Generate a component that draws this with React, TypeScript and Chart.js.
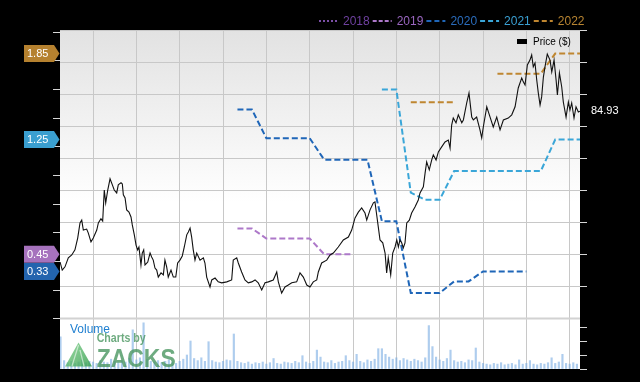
import React, { useEffect, useRef } from "react";
import { Chart, registerables } from "chart.js";

Chart.register(...registerables);

// x values: months counted from the first quarterly gridline (Jul 2018)
const X_MIN = -2.285;
const X_MAX = 33.715;
const quarterTicks = [0, 3, 6, 9, 12, 15, 18, 21, 24, 27, 30, 33];

// Price ($)
const priceMonths = [
  -2.28, -2.13, -1.94, -1.71, -1.47, -1.25, -1.06, -0.9, -0.78, -0.67,
  -0.44, -0.33, -0.14, 0.02, 0.26, 0.37, 0.55, 0.67, 0.78, 0.88,
  1.02, 1.18, 1.34, 1.47, 1.64, 1.75, 1.94, 2.03, 2.1, 2.22,
  2.33, 2.49, 2.63, 2.72, 2.86, 2.98, 3.09, 3.18, 3.32, 3.41,
  3.51, 3.6, 3.79, 3.95, 4.06, 4.17, 4.29, 4.41, 4.52, 4.71,
  4.87, 4.98, 5.1, 5.21, 5.4, 5.56, 5.73, 5.86, 6.02, 6.18,
  6.32, 6.49, 6.6, 6.72, 6.83, 6.94, 7.06, 7.18, 7.41, 7.64,
  7.75, 7.87, 8.1, 8.22, 8.45, 8.67, 8.91, 9.26, 9.6, 9.71,
  9.95, 10.06, 10.29, 10.52, 10.75, 10.99, 11.22, 11.44, 11.68, 11.91,
  12.14, 12.48, 12.72, 12.83, 13.06, 13.29, 13.52, 13.76, 14.1, 14.33,
  14.56, 14.8, 15.02, 15.25, 15.49, 15.6, 15.83, 16.18, 16.41, 16.64,
  16.98, 17.33, 17.68, 17.91, 18.14, 18.37, 18.6, 18.83, 18.95, 19.18,
  19.41, 19.52, 19.64, 19.75, 19.87, 20.06, 20.22, 20.33, 20.44, 20.61,
  20.75, 20.91, 21.03, 21.14, 21.25, 21.37, 21.48, 21.6, 21.72, 21.9,
  22.06, 22.29, 22.52, 22.64, 22.87, 22.99, 23.1, 23.28, 23.45, 23.56,
  23.75, 23.91, 24.14, 24.37, 24.6, 24.72, 24.83, 24.94, 25.13, 25.29,
  25.53, 25.64, 25.87, 26.03, 26.22, 26.33, 26.56, 26.79, 26.91, 27.02,
  27.26, 27.49, 27.71, 27.95, 28.18, 28.41, 28.75, 28.99, 29.22, 29.44,
  29.68, 29.79, 29.91, 30.07, 30.25, 30.37, 30.48, 30.6, 30.72, 30.83,
  30.95, 31.06, 31.18, 31.29, 31.45, 31.64, 31.76, 31.92, 32.06, 32.15,
  32.29, 32.45, 32.56, 32.75, 32.91, 33.02, 33.14, 33.3, 33.44, 33.6,
  33.715,
];
const priceClose = [
  37.8, 35.3, 36.3, 39.1, 40.0, 41.6, 45.3, 50.0, 50.9, 47.8,
  48.1, 46.9, 44.1, 45.3, 47.8, 50.0, 51.3, 50.6, 60.3, 56.3,
  60.3, 63.8, 61.9, 60.3, 59.4, 61.9, 62.6, 62.2, 58.8, 57.8,
  54.1, 53.4, 51.9, 49.4, 46.3, 43.1, 41.6, 42.5, 36.9, 40.6,
  41.6, 36.9, 37.8, 40.6, 39.4, 38.4, 35.9, 35.3, 33.1, 34.4,
  33.8, 38.4, 36.3, 33.1, 35.3, 33.1, 33.1, 37.5, 38.4, 39.7,
  42.5, 46.3, 47.2, 48.4, 45.6, 41.6, 38.4, 40.6, 38.4, 39.1,
  37.5, 33.1, 30.0, 32.2, 32.8, 31.6, 31.3, 31.6, 32.2, 38.4,
  39.1, 37.5, 34.7, 32.2, 31.3, 31.6, 32.2, 31.3, 29.1, 31.3,
  31.6, 32.2, 34.7, 31.6, 28.1, 30.0, 30.6, 31.3, 31.6, 34.4,
  33.1, 30.6, 30.0, 31.6, 32.2, 34.7, 37.5, 38.4, 40.0, 40.6,
  42.5, 44.7, 45.6, 47.8, 51.6, 53.4, 54.7, 53.1, 50.9, 54.1,
  56.3, 56.6, 52.5, 48.8, 44.7, 43.8, 40.6, 34.4, 39.1, 33.8,
  40.6, 42.5, 44.7, 42.5, 44.7, 43.8, 42.2, 43.8, 50.0, 50.9,
  53.1, 55.0, 57.2, 59.4, 61.3, 65.6, 69.1, 66.6, 69.7, 71.3,
  69.7, 72.2, 73.8, 75.3, 75.9, 73.4, 80.6, 82.8, 81.3, 83.8,
  81.3, 82.2, 87.5, 90.6, 83.1, 82.2, 83.1, 79.1, 76.6, 80.0,
  86.3, 83.1, 80.0, 83.1, 79.1, 82.2, 82.8, 83.8, 86.3, 92.2,
  95.3, 94.1, 93.1, 99.4, 100.9, 102.5, 98.8, 100.0, 94.7, 90.6,
  86.9, 89.4, 95.6, 98.8, 102.8, 100.9, 97.2, 100.9, 94.7, 90.0,
  96.9, 92.5, 87.8, 83.1, 87.8, 85.3, 87.5, 82.8, 86.3, 84.7,
  84.93,
];

// Consensus EPS estimates by fiscal year (monthly)
const epsMonths = [10, 11, 12, 13, 14, 15, 16, 17, 18, 19, 20, 21, 22, 23, 24, 25, 26, 27, 28, 29, 30, 31, 32, 33, 33.715];
const eps2019 = [0.63, 0.63, 0.56, 0.56, 0.56, 0.56, 0.45, 0.45, 0.45, null, null, null, null, null, null, null, null, null, null, null, null, null, null, null, null];
const eps2020 = [1.46, 1.46, 1.26, 1.26, 1.26, 1.26, 1.11, 1.11, 1.11, 1.11, 0.68, 0.68, 0.18, 0.18, 0.18, 0.26, 0.26, 0.33, 0.33, 0.33, 0.33, null, null, null, null];
const eps2021 = [null, null, null, null, null, null, null, null, null, null, 1.6, 1.6, 0.88, 0.83, 0.83, 1.03, 1.03, 1.03, 1.03, 1.03, 1.03, 1.03, 1.25, 1.25, 1.25];
const eps2022 = [null, null, null, null, null, null, null, null, null, null, null, null, 1.51, 1.51, 1.51, 1.51, null, null, 1.71, 1.71, 1.71, 1.71, 1.85, 1.85, 1.85];

// Volume (millions of shares), weekly
const volumeStartMonth = -2.25;
const volumeStepMonths = 0.25;
const volumeM = [
  4.6, 1.2, 0.9, 1.1, 0.8, 1.0, 1.3, 0.9, 1.1, 1.0, 0.8, 1.2,
  1.0, 0.9, 1.4, 1.1, 0.9, 1.2, 1.0, 1.5, 5.6, 1.3, 1.6, 6.6,
  1.4, 1.1, 1.0, 1.2, 0.9, 1.1, 1.3, 1.0, 0.8, 1.1, 1.4, 2.0,
  4.0, 1.5, 1.2, 1.6, 1.1, 3.9, 1.2, 1.0, 0.9, 1.1, 1.3, 1.2,
  5.0, 1.1, 0.9, 0.8, 1.0, 0.7, 0.9, 0.8, 1.0, 0.7, 0.9, 1.5,
  0.8, 0.7, 1.0, 0.9, 0.8, 1.1, 0.9, 1.9, 1.0, 0.8, 1.1, 2.7,
  1.7, 1.0, 0.9, 1.2, 0.8, 1.0, 1.1, 1.9, 1.2, 1.0, 2.1, 1.1,
  0.9, 1.3, 1.1, 1.4, 2.9, 2.9, 2.1, 1.7, 1.4, 1.6, 1.2, 1.5,
  1.3, 1.1, 1.4, 1.2, 1.0, 1.6, 6.2, 3.2, 1.7, 1.3, 1.1, 1.5,
  2.7, 1.2, 1.0, 1.1, 0.9, 1.3, 1.2, 3.0, 1.0, 0.8, 0.7, 0.6,
  0.8, 0.7, 0.9, 0.6, 0.7, 0.8, 0.6, 1.3, 0.7, 0.8, 1.2, 0.7,
  0.6, 0.8, 0.7, 0.9, 1.6, 0.8, 1.0, 2.1, 0.8, 0.7, 0.9, 0.7,
];

const epsTicks = [0, 0.2, 0.4, 0.6, 0.8, 1.0, 1.2, 1.4, 1.6, 1.8, 2.0];
const priceTicks = [30, 40, 50, 60, 70, 80, 90, 100, 110];
const volumeTicks = [0, 2, 4, 6];

const legendYears = ["2018", "2019", "2020", "2021", "2022"];
const legendLineColors = ["#7b4fa6", "#ad78c9", "#1f66b8", "#3aa6d8", "#bf8630"];
const legendTextColors = ["#6f41a0", "#9a66c0", "#2a6cbc", "#3a9fd2", "#b88532"];
const legendDashes = [[2, 2], [4, 2], [5, 3], [5, 3], [5, 3]];

const FONT = '"Liberation Sans", Arial, Helvetica, sans-serif';

const estimateSeries = [
  { year: "2019", values: eps2019, color: "#ad78c9", badge: "#a672bd" },
  { year: "2020", values: eps2020, color: "#1f66b8", badge: "#2364ae" },
  { year: "2021", values: eps2021, color: "#3aa6d8", badge: "#3a9fd0" },
  { year: "2022", values: eps2022, color: "#bf8630", badge: "#b5812f" },
];

function fixedTicks(values: number[]) {
  return (scale: any) => {
    scale.ticks = values.map((v) => ({ value: v }));
  };
}

const decorPlugin = {
  id: "decor",
  beforeDraw(chart: any) {
    const { ctx, chartArea: a, scales } = chart;
    const split = scales.yPrice.bottom;
    ctx.save();
    ctx.fillStyle = "#000";
    ctx.fillRect(0, 0, chart.width, chart.height);
    const g = ctx.createLinearGradient(0, a.top, 0, split);
    g.addColorStop(0, "#e2e2e2");
    g.addColorStop(0.6, "#ffffff");
    g.addColorStop(1, "#ffffff");
    ctx.fillStyle = g;
    ctx.fillRect(a.left, a.top, a.right - a.left, split - a.top);
    ctx.fillStyle = "#ffffff";
    ctx.fillRect(a.left, split, a.right - a.left, a.bottom - split);
    ctx.restore();
  },
  beforeDatasetsDraw(chart: any) {
    const { ctx, chartArea: a, scales } = chart;
    const split = scales.yPrice.bottom;
    ctx.save();
    ctx.fillStyle = "#d2d2d2";
    ctx.fillRect(a.left, split - 0.5, a.right - a.left, 2);
    ctx.restore();
  },
  afterDatasetsDraw(chart: any) {
    const { ctx } = chart;
    ctx.save();
    // "Volume" caption
    ctx.fillStyle = "#1f7fd0";
    ctx.font = `12px ${FONT}`;
    ctx.textBaseline = "middle";
    ctx.textAlign = "left";
    ctx.fillText("Volume", 70, 330);
    // watermark
    ctx.globalAlpha = 0.8;
    const tg = ctx.createLinearGradient(65, 343, 92, 367);
    tg.addColorStop(0, "#7fd08a");
    tg.addColorStop(1, "#2e9a48");
    ctx.fillStyle = tg;
    ctx.beginPath();
    ctx.moveTo(78.5, 342.5);
    ctx.lineTo(92, 366.5);
    ctx.lineTo(65, 366.5);
    ctx.closePath();
    ctx.fill();
    ctx.strokeStyle = "rgba(255,255,255,0.7)";
    ctx.lineWidth = 1.2;
    ctx.beginPath();
    ctx.moveTo(78.5, 345);
    ctx.lineTo(72, 366);
    ctx.moveTo(80, 350);
    ctx.lineTo(84, 366);
    ctx.stroke();
    ctx.fillStyle = "#4a9660";
    ctx.font = `bold 13px ${FONT}`;
    let w = ctx.measureText("Charts by").width;
    ctx.save();
    ctx.translate(96.7, 338);
    ctx.scale(49 / w, 1);
    ctx.textBaseline = "middle";
    ctx.fillText("Charts by", 0, 0);
    ctx.restore();
    ctx.font = `bold 26px ${FONT}`;
    w = ctx.measureText("ZACKS").width;
    ctx.save();
    ctx.translate(96.7, 366.7);
    ctx.scale(79 / w, 1);
    ctx.textBaseline = "alphabetic";
    ctx.fillStyle = "#4a9660";
    ctx.fillText("ZACKS", 0, 0);
    ctx.restore();
    ctx.restore();
  },
  afterDraw(chart: any) {
    const { ctx, scales } = chart;
    ctx.save();
    // top legend
    ctx.font = `12px ${FONT}`;
    ctx.textBaseline = "middle";
    ctx.textAlign = "left";
    let x = 319;
    const ly = 21;
    legendYears.forEach((yr, i) => {
      ctx.strokeStyle = legendLineColors[i];
      ctx.lineWidth = 2;
      ctx.setLineDash(legendDashes[i]);
      ctx.beginPath();
      ctx.moveTo(x, ly);
      ctx.lineTo(x + 19, ly);
      ctx.stroke();
      ctx.setLineDash([]);
      ctx.fillStyle = legendTextColors[i];
      ctx.fillText(yr, x + 24, ly + 0.5);
      x = x + 24 + ctx.measureText(yr).width + 3;
    });
    // Price ($) legend
    ctx.fillStyle = "#000";
    ctx.fillRect(517, 39, 10, 5);
    ctx.font = `10px ${FONT}`;
    ctx.fillText("Price ($)", 533, 42);
    // last price label
    const last = priceClose[priceClose.length - 1];
    ctx.fillStyle = "#fff";
    ctx.font = `11px ${FONT}`;
    ctx.fillText(last.toFixed(2), 591, scales.yPrice.getPixelForValue(last));
    // EPS badges
    estimateSeries.forEach((s) => {
      let v: number | null = null;
      for (let i = s.values.length - 1; i >= 0; i--) {
        if (s.values[i] != null) {
          v = s.values[i] as number;
          break;
        }
      }
      if (v == null) return;
      const y = scales.yEps.getPixelForValue(v);
      const h = 17;
      ctx.fillStyle = s.badge;
      ctx.beginPath();
      ctx.moveTo(24, y - h / 2);
      ctx.lineTo(54, y - h / 2);
      ctx.lineTo(59.5, y);
      ctx.lineTo(54, y + h / 2);
      ctx.lineTo(24, y + h / 2);
      ctx.closePath();
      ctx.fill();
      ctx.fillStyle = "#fff";
      ctx.font = `11px ${FONT}`;
      ctx.fillText(v.toFixed(2), 27, y + 0.5);
    });
    ctx.restore();
  },
};

export default function App() {
  const ref = useRef<HTMLCanvasElement>(null);
  useEffect(() => {
    const canvas = ref.current;
    if (!canvas) return;
    const priceData = priceMonths.map((m, i) => ({ x: m, y: priceClose[i] }));
    const volumeData = volumeM.map((v, i) => ({ x: volumeStartMonth + i * volumeStepMonths, y: v }));
    const estDatasets = estimateSeries.map((s) => ({
      type: "line" as const,
      label: s.year,
      data: epsMonths.map((m, i) => ({ x: m, y: s.values[i] })),
      yAxisID: "yEps",
      borderColor: s.color,
      borderWidth: 2,
      borderDash: [6, 3],
      pointRadius: 0,
      tension: 0,
      spanGaps: false,
      fill: false,
    }));
    const chart = new Chart(canvas, {
      type: "line",
      data: {
        datasets: [
          {
            type: "line",
            label: "Price ($)",
            data: priceData,
            yAxisID: "yPrice",
            borderColor: "#111",
            borderWidth: 1.1,
            pointRadius: 0,
            tension: 0,
            fill: false,
          },
          ...estDatasets,
          {
            type: "bar",
            label: "Volume",
            data: volumeData,
            yAxisID: "yVol",
            backgroundColor: "rgba(120,172,226,0.6)",
            barThickness: 1.5,
          },
        ] as any,
      },
      options: {
        responsive: false,
        animation: false,
        devicePixelRatio: 1,
        layout: { padding: { top: 30, bottom: 13, left: 0, right: 0 } },
        plugins: { legend: { display: false }, tooltip: { enabled: false } },
        scales: {
          x: {
            type: "linear",
            min: X_MIN,
            max: X_MAX,
            offset: false,
            afterBuildTicks: fixedTicks(quarterTicks),
            afterFit: (s: any) => {
              s.height = 0;
            },
            ticks: { display: false },
            grid: { color: "#c8c8c8", drawTicks: false, lineWidth: 1, offset: false },
            border: { display: false },
          },
          yEps: {
            type: "linear",
            position: "left",
            min: -0.351,
            max: 2.0147,
            afterBuildTicks: fixedTicks(epsTicks),
            afterFit: (s: any) => {
              s.width = 60;
            },
            ticks: { display: false },
            grid: { drawOnChartArea: false, drawTicks: true, tickLength: 7, tickColor: "#d6d6d6" },
            border: { display: false },
          },
          yPrice: {
            type: "linear",
            position: "right",
            stack: "right",
            stackWeight: 288,
            min: 20.31,
            max: 110.31,
            afterBuildTicks: fixedTicks(priceTicks),
            afterFit: (s: any) => {
              s.width = 60;
            },
            ticks: { display: false },
            grid: { color: "#c8c8c8", drawTicks: true, tickLength: 7, tickColor: "#d6d6d6" },
            border: { display: false },
          },
          yVol: {
            type: "linear",
            position: "right",
            stack: "right",
            stackWeight: 51,
            min: 0,
            max: 7.286,
            afterBuildTicks: fixedTicks(volumeTicks),
            afterFit: (s: any) => {
              s.width = 60;
            },
            ticks: { display: false },
            grid: { drawOnChartArea: false, drawTicks: true, tickLength: 7, tickColor: "#d6d6d6" },
            border: { display: false },
          },
        } as any,
      },
      plugins: [decorPlugin],
    });
    return () => chart.destroy();
  }, []);
  return (
    <div style={{ position: "fixed", left: 0, top: 0, width: 640, height: 382, background: "#000" }}>
      <canvas ref={ref} width={640} height={382} style={{ display: "block", width: 640, height: 382 }} />
    </div>
  );
}
